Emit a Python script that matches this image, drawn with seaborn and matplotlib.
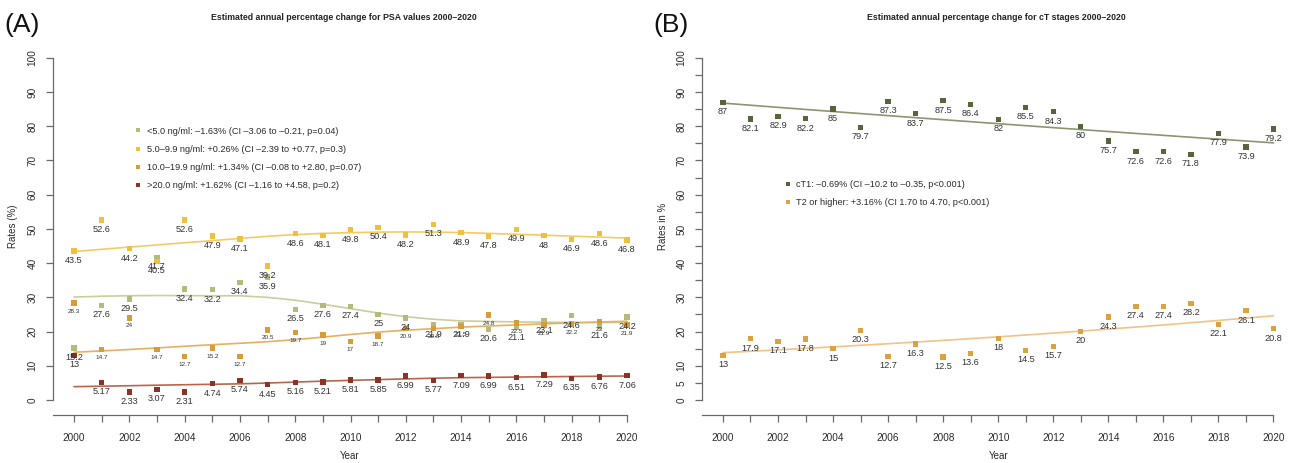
import numpy as np
import pandas as pd
import matplotlib
matplotlib.use("Agg")
import matplotlib.pyplot as plt
import seaborn as sns

sns.set_style("white")
plt.rcParams['font.family'] = ['Liberation Sans', 'DejaVu Sans']

years = list(range(2000, 2021))

# Panel A: PSA groups
psa_lt5 = [15.2, 27.6, 29.5, 41.7, 32.4, 32.2, 34.4, 35.9, 26.5, 27.6, 27.4,
           25, 24, 21.9, 21.9, 20.6, 21.1, 23.1, 24.6, 21.6, 24.2]
psa_5_10 = [43.5, 52.6, 44.2, 40.5, 52.6, 47.9, 47.1, 39.2, 48.6, 48.1, 49.8,
            50.4, 48.2, 51.3, 48.9, 47.8, 49.9, 48, 46.9, 48.6, 46.8]
psa_10_20 = [28.3, 14.7, 24, 14.7, 12.7, 15.2, 12.7, 20.5, 19.7, 19, 17,
             18.7, 20.9, 20.8, 21.5, 24.8, 22.5, 21.9, 22.2, 23, 21.9]
psa_gt20 = [13, 5.17, 2.33, 3.07, 2.31, 4.74, 5.74, 4.45, 5.16, 5.21, 5.81,
            5.85, 6.99, 5.77, 7.09, 6.99, 6.51, 7.29, 6.35, 6.76, 7.06]
psa_labels = ["<5.0 ng/ml: \u20131.63% (CI \u20133.06 to \u20130.21, p=0.04)",
              "5.0\u20139.9 ng/ml: +0.26% (CI \u20132.39 to +0.77, p=0.3)",
              "10.0\u201319.9 ng/ml: +1.34% (CI \u20130.08 to +2.80, p=0.07)",
              ">20.0 ng/ml: +1.62% (CI \u20131.16 to +4.58, p=0.2)"]

# Panel B: cT stages
ct1 = [87, 82.1, 82.9, 82.2, 85, 79.7, 87.3, 83.7, 87.5, 86.4, 82,
       85.5, 84.3, 80, 75.7, 72.6, 72.6, 71.8, 77.9, 73.9, 79.2]
t2 = [13, 17.9, 17.1, 17.8, 15, 20.3, 12.7, 16.3, 12.5, 13.6, 18,
      14.5, 15.7, 20, 24.3, 27.4, 27.4, 28.2, 22.1, 26.1, 20.8]
ct_labels = ["cT1: \u20130.69% (CI \u201310.2 to \u20130.35, p<0.001)",
             "T2 or higher: +3.16% (CI 1.70 to 4.70, p<0.001)"]

psa_colors = ['#b5b97c', '#f0c03a', '#d69c3c', '#8a3326']
psa_line_colors = ['#cbcd9c', '#f3cb66', '#e6b05e', '#b8654f']
ct_colors = ['#55673a', '#dba23f']
ct_line_colors = ['#8e9372', '#f1c386']


def lowess(x, y, frac=2 / 3, it=3):
    x = np.asarray(x, float) - 2000.0
    y = np.asarray(y, float)
    n = len(x)
    r = int(np.ceil(frac * n))
    h = np.array([np.sort(np.abs(x - x[i]))[r - 1] for i in range(n)])
    delta = np.ones(n)
    yest = np.zeros(n)
    for _ in range(it + 1):
        for i in range(n):
            u = np.clip(np.abs((x - x[i]) / (h[i] * 1.0001)), 0, 1)
            w = (1 - u ** 3) ** 3 * delta
            A = np.array([[w.sum(), (w * x).sum()], [(w * x).sum(), (w * x * x).sum()]])
            b = np.array([(w * y).sum(), (w * x * y).sum()])
            beta = np.linalg.solve(A, b)
            yest[i] = beta[0] + beta[1] * x[i]
        res = y - yest
        s = np.median(np.abs(res))
        d = np.clip(res / (6 * s), -1, 1)
        delta = (1 - d ** 2) ** 2
    return yest


def loglin(x, y):
    x = np.asarray(x, float)
    c = np.polyfit(x - 2000, np.log(y), 1)
    return np.exp(np.polyval(c, x - 2000))


W, H = 1293, 463
fig = plt.figure(figsize=(W / 100, H / 100), dpi=100)
axA = fig.add_axes([53 / W, 1 - 415 / H, 587 / W, 365 / H])
axB = fig.add_axes([702 / W, 1 - 415 / H, 588 / W, 365 / H])

spine_c = '#6a6a6a'
txt_c = '#2a2a2a'


def style(ax, xright, ylabels, ytick_all):
    ax.set_xlim(1999.24, xright)
    ax.set_ylim(-4.4, 102.3)
    for s in ['top', 'right']:
        ax.spines[s].set_visible(False)
    for s in ['left', 'bottom']:
        ax.spines[s].set_color(spine_c)
        ax.spines[s].set_linewidth(0.9)
    ax.spines['left'].set_bounds(0, 100)
    ax.spines['bottom'].set_bounds(1999.24, 2020)
    ax.set_xticks(years)
    ax.set_xticklabels([str(y) if y % 2 == 0 else '' for y in years])
    ax.set_yticks(ytick_all)
    ax.set_yticklabels([str(v) if v in ylabels else '' for v in ytick_all])
    plt.setp(ax.get_yticklabels(), rotation=90, va='center')
    ax.tick_params(axis='both', direction='out', length=5, width=0.9,
                   color=spine_c, labelsize=7.2, labelcolor=txt_c,
                   bottom=True, left=True)
    ax.tick_params(axis='x', pad=8)
    ax.tick_params(axis='y', pad=6)
    ax.grid(False)
    ax.set_xlabel('')
    ax.set_ylabel('')


# ---- Panel A
dfA = pd.DataFrame({
    'year': years * 4,
    'value': psa_lt5 + psa_5_10 + psa_10_20 + psa_gt20,
    'group': sum([[lab] * len(years) for lab in psa_labels], []),
})
series_A = [psa_lt5, psa_5_10, psa_10_20, psa_gt20]
for vals, lc in zip(series_A, psa_line_colors):
    sns.lineplot(x=years, y=lowess(years, vals), color=lc, lw=1.2, ax=axA, zorder=2)
sns.scatterplot(data=dfA, x='year', y='value', hue='group', palette=psa_colors,
                marker='s', s=15, linewidth=0, ax=axA, zorder=3)
for k, vals in enumerate(series_A):
    small = (k == 2)
    for x, v in zip(years, vals):
        axA.annotate(f"{v:g}", (x, v), xytext=(0, -5.8 if small else -6.8),
                     textcoords='offset points', ha='center', va='center',
                     fontsize=4.6 if small else 6.6, color='#333333', zorder=4)
style(axA, 2020.47, list(range(0, 101, 10)), list(range(0, 101, 10)))
sns.move_legend(axA, 'upper left', bbox_to_anchor=(0.139, 0.79), frameon=False,
                title=None, fontsize=6.6, handlelength=0.8, handletextpad=0.5,
                borderpad=0, borderaxespad=0, labelspacing=1.0, markerscale=0.8)
for t in axA.get_legend().get_texts():
    t.set_color(txt_c)

# ---- Panel B
dfB = pd.DataFrame({
    'year': years * 2,
    'value': ct1 + t2,
    'group': sum([[lab] * len(years) for lab in ct_labels], []),
})
for vals, lc in zip([ct1, t2], ct_line_colors):
    sns.lineplot(x=years, y=loglin(years, vals), color=lc, lw=1.2, ax=axB, zorder=2)
sns.scatterplot(data=dfB, x='year', y='value', hue='group', palette=ct_colors,
                marker='s', s=15, linewidth=0, ax=axB, zorder=3)
for vals in [ct1, t2]:
    for x, v in zip(years, vals):
        axB.annotate(f"{v:g}", (x, v), xytext=(0, -6.8), textcoords='offset points',
                     ha='center', va='center', fontsize=6.6, color='#333333', zorder=4)
yl_B = [0, 5, 10] + list(range(20, 101, 10))
style(axB, 2020.6, yl_B, list(range(0, 101, 5)))
sns.move_legend(axB, 'upper left', bbox_to_anchor=(0.14, 0.643), frameon=False,
                title=None, fontsize=6.6, handlelength=0.8, handletextpad=0.5,
                borderpad=0, borderaxespad=0, labelspacing=1.0, markerscale=0.8)
for t in axB.get_legend().get_texts():
    t.set_color(txt_c)

# ---- Figure texts
fig.text(344 / W, 1 - 17 / H, 'Estimated annual percentage change for PSA values 2000\u20132020',
         ha='center', va='center', fontsize=6.3, fontweight='bold', color='#222222')
fig.text(996 / W, 1 - 17 / H, 'Estimated annual percentage change for cT stages 2000\u20132020',
         ha='center', va='center', fontsize=6.3, fontweight='bold', color='#222222')
fig.text(350 / W, 1 - 456 / H, 'Year', ha='center', va='center', fontsize=7, color=txt_c)
fig.text(999 / W, 1 - 456 / H, 'Year', ha='center', va='center', fontsize=7, color=txt_c)
fig.text(13 / W, 1 - 226 / H, 'Rates (%)', ha='center', va='center', rotation=90,
         fontsize=7, color=txt_c)
fig.text(663 / W, 1 - 226 / H, 'Rates in %', ha='center', va='center', rotation=90,
         fontsize=7, color=txt_c)
fig.text(4 / W, 1 - 25 / H, '(A)', ha='left', va='center', fontsize=19, color='#111111')
fig.text(653 / W, 1 - 25 / H, '(B)', ha='left', va='center', fontsize=19, color='#111111')

fig.savefig('out.png', dpi=100)
